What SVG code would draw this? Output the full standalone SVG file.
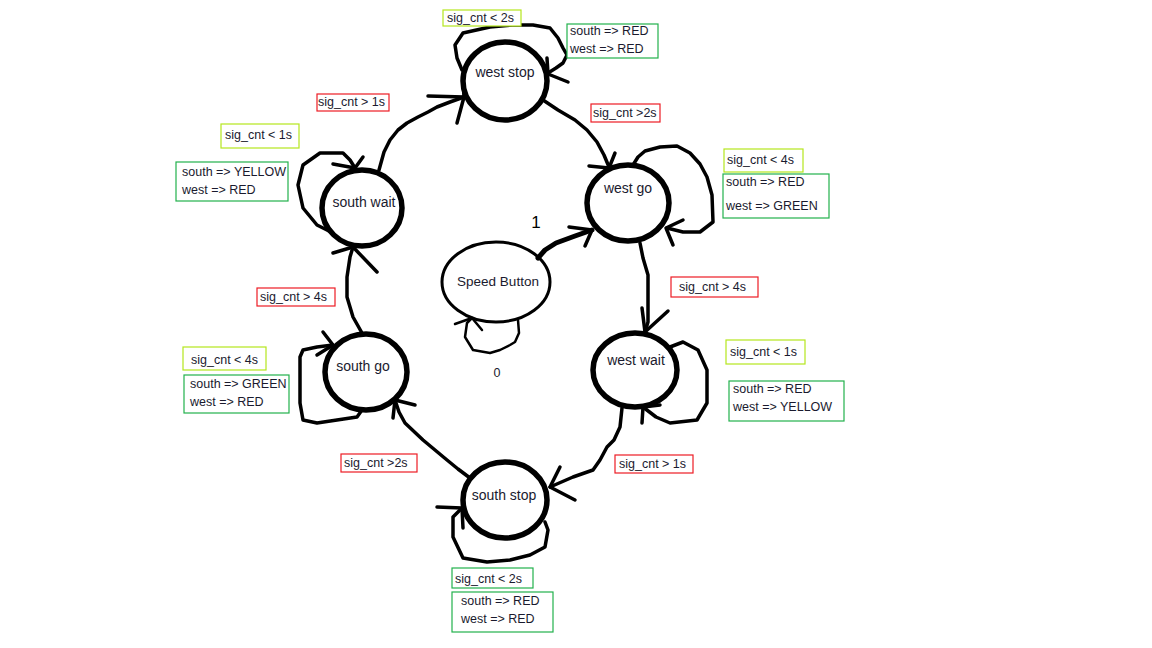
<svg xmlns="http://www.w3.org/2000/svg" width="1152" height="648" viewBox="0 0 1152 648">
  <style>
    .state { fill: none; stroke: #000; stroke-width: 5.5; }
    .btn { fill: none; stroke: #000; stroke-width: 3; }
    .name { font-family: "Liberation Sans", Arial, sans-serif; font-size: 14px; fill: #1a1a2e; text-anchor: middle; dominant-baseline: middle; }
    .lbl { font-family: "Liberation Sans", Arial, sans-serif; font-size: 12.5px; fill: #1a1a2e; }
    .wire { fill: none; stroke: #000; stroke-width: 3.5; stroke-linecap: round; stroke-linejoin: round; }
    .thin { fill: none; stroke: #000; stroke-width: 2.5; stroke-linecap: round; stroke-linejoin: round; }
    .red { fill: #fff; stroke: #ed1c24; stroke-width: 1.2; }
    .lime { fill: #fff; stroke: #b5e61d; stroke-width: 1.2; }
    .green { fill: #fff; stroke: #22b14c; stroke-width: 1.2; }
  </style>
  <rect width="1152" height="648" fill="#fff"/>

  <!-- transitions -->
  <g id="connectors">
    <!-- south wait -> west stop -->
    <polyline class="wire" points="379,170 384,152 390,140 398,130 407,123 418,117 428,112 437,107 450,102 464,97"/>
    <polyline class="wire" points="428,96 464,97 457,123"/>
    <polyline class="wire" points="463,80 464,97"/>
    <!-- west stop self loop -->
    <polyline class="wire" points="462,70 457,58 455,45 463,33 490,27 512,25 533,25 550,28 558,38 563,48 567,55 563,63 556,68 548,73"/>
    <polyline class="wire" points="547,58 548,74 568,82"/>
    <!-- west stop -> west go -->
    <polyline class="wire" points="543,100 558,110 575,120 587,130 597,142 604,155 609,167"/>
    <polyline class="wire" points="589,166 609,168 615,153"/>
    <!-- west go self loop -->
    <polyline class="wire" points="633,165 638,157 645,151 660,147 677,146 690,153 700,164 707,177 712,195 713,222 700,232 683,232 667,228"/>
    <polyline class="wire" points="683,220 666,228 673,245"/>
    <!-- speed button -> west go -->
    <polyline class="wire" style="stroke-width:5" points="538,258 545,250 556,243 575,236 592,230"/>
    <polyline class="wire" points="569,227 592,230 585,246"/>
    <!-- speed button self loop -->
    <polyline class="thin" points="518,320 519,333 515,342 510,345 500,350 490,353 473,350 465,337 467,323 472,318"/>
    <polyline class="thin" points="455,324 472,318 482,330"/>
    <!-- west go -> west wait -->
    <polyline class="wire" points="640,243 643,258 648,275 648,300 648,322 645,332"/>
    <polyline class="wire" points="642,308 645,332 668,311"/>
    <!-- west wait self loop -->
    <polyline class="wire" points="670,347 683,342 698,350 707,370 707,403 697,420 670,423 656,417 643,407"/>
    <polyline class="wire" points="660,405 643,407 642,423"/>
    <!-- west wait -> south stop -->
    <polyline class="wire" points="622,408 620,427 614,440 607,447 600,460 593,470 573,477 550,487"/>
    <polyline class="wire" points="560,467 550,487 575,500"/>
    <!-- south stop self loop -->
    <polyline class="wire" points="545,522 548,530 545,547 530,555 510,560 487,562 463,558 453,537 453,517 462,508"/>
    <polyline class="wire" points="437,507 462,508 463,528"/>
    <!-- south stop -> south go -->
    <polyline class="wire" points="470,478 458,469 447,460 435,450 423,440 405,423 399,412 395,400"/>
    <polyline class="wire" points="415,405 395,400 393,418"/>
    <!-- south go self loop -->
    <polyline class="wire" points="362,410 357,417 317,423 303,420 300,403 300,357 303,350 317,347 333,345"/>
    <polyline class="wire" points="323,332 333,345 317,355"/>
    <!-- south go -> south wait -->
    <polyline class="wire" points="362,333 353,317 347,297 347,277 350,257 353,247"/>
    <polyline class="wire" points="333,253 353,247 377,272"/>
    <!-- south wait self loop -->
    <polyline class="wire" points="333,233 317,225 303,208 298,185 303,165 320,153 343,153 350,160 355,168"/>
    <polyline class="wire" points="333,164 355,168 363,157"/>
  </g>

  <!-- states -->
  <g id="west-stop">
    <ellipse class="state" cx="505" cy="81" rx="42" ry="39"/>
    <text class="name" x="505" y="73">west stop</text>
  </g>
  <g id="west-go">
    <ellipse class="state" cx="628" cy="203" rx="41" ry="38"/>
    <text class="name" x="628" y="189">west go</text>
  </g>
  <g id="west-wait">
    <ellipse class="state" cx="635" cy="370" rx="42" ry="37"/>
    <text class="name" x="636" y="361">west wait</text>
  </g>
  <g id="south-stop">
    <ellipse class="state" cx="505" cy="500" rx="42" ry="38"/>
    <text class="name" x="504" y="496">south stop</text>
  </g>
  <g id="south-go">
    <ellipse class="state" cx="366" cy="372" rx="41" ry="38"/>
    <text class="name" x="363" y="367">south go</text>
  </g>
  <g id="south-wait">
    <ellipse class="state" cx="362" cy="208" rx="40" ry="38"/>
    <text class="name" x="364" y="203">south wait</text>
  </g>
  <g id="speed-button">
    <ellipse class="btn" cx="496" cy="282" rx="54" ry="40"/>
    <text class="name" x="498" y="282" style="font-size:13.5px">Speed Button</text>
    <text class="lbl" x="536" y="228" text-anchor="middle" style="font-size:17px;fill:#000">1</text>
    <text class="lbl" x="497" y="377" text-anchor="middle">0</text>
  </g>

  <!-- condition and output labels -->
  <g id="labels">
    <rect class="lime" x="443" y="10" width="78" height="16"/>
    <text class="lbl" x="447" y="22">sig_cnt &lt; 2s</text>
    <rect class="green" x="567" y="24" width="91" height="34"/>
    <text class="lbl" x="570" y="35">south =&gt; RED</text>
    <text class="lbl" x="570" y="53">west =&gt; RED</text>

    <rect class="red" x="591" y="104" width="69" height="18"/>
    <text class="lbl" x="593" y="117">sig_cnt &gt;2s</text>

    <rect class="red" x="317" y="94" width="72" height="17"/>
    <text class="lbl" x="318" y="106">sig_cnt &gt; 1s</text>

    <rect class="lime" x="221" y="124" width="78" height="24"/>
    <text class="lbl" x="225" y="139">sig_cnt &lt; 1s</text>
    <rect class="green" x="176" y="162" width="112" height="39"/>
    <text class="lbl" x="182" y="176">south =&gt; YELLOW</text>
    <text class="lbl" x="182" y="194">west =&gt; RED</text>

    <rect class="lime" x="724" y="149" width="79" height="23"/>
    <text class="lbl" x="727" y="164">sig_cnt &lt; 4s</text>
    <rect class="green" x="723" y="174" width="106" height="44"/>
    <text class="lbl" x="726" y="186">south =&gt; RED</text>
    <text class="lbl" x="726" y="210">west =&gt; GREEN</text>

    <rect class="red" x="671" y="277" width="87" height="20"/>
    <text class="lbl" x="679" y="291">sig_cnt &gt; 4s</text>

    <rect class="lime" x="726" y="340" width="79" height="24"/>
    <text class="lbl" x="730" y="356">sig_cnt &lt; 1s</text>
    <rect class="green" x="729" y="381" width="115" height="40"/>
    <text class="lbl" x="733" y="393">south =&gt; RED</text>
    <text class="lbl" x="733" y="411">west =&gt; YELLOW</text>

    <rect class="red" x="615" y="455" width="78" height="18"/>
    <text class="lbl" x="619" y="468">sig_cnt &gt; 1s</text>

    <rect class="red" x="257" y="288" width="78" height="18"/>
    <text class="lbl" x="260" y="301">sig_cnt &gt; 4s</text>

    <rect class="lime" x="183" y="347" width="83" height="23"/>
    <text class="lbl" x="191" y="364">sig_cnt &lt; 4s</text>
    <rect class="green" x="184" y="375" width="105" height="38"/>
    <text class="lbl" x="190" y="388">south =&gt; GREEN</text>
    <text class="lbl" x="190" y="406">west =&gt; RED</text>

    <rect class="red" x="341" y="454" width="76" height="18"/>
    <text class="lbl" x="344" y="467">sig_cnt &gt;2s</text>

    <rect class="green" x="452" y="568" width="81" height="20"/>
    <text class="lbl" x="455" y="583">sig_cnt &lt; 2s</text>
    <rect class="green" x="452" y="592" width="101" height="40"/>
    <text class="lbl" x="461" y="605">south =&gt; RED</text>
    <text class="lbl" x="461" y="623">west =&gt; RED</text>
  </g>
</svg>
